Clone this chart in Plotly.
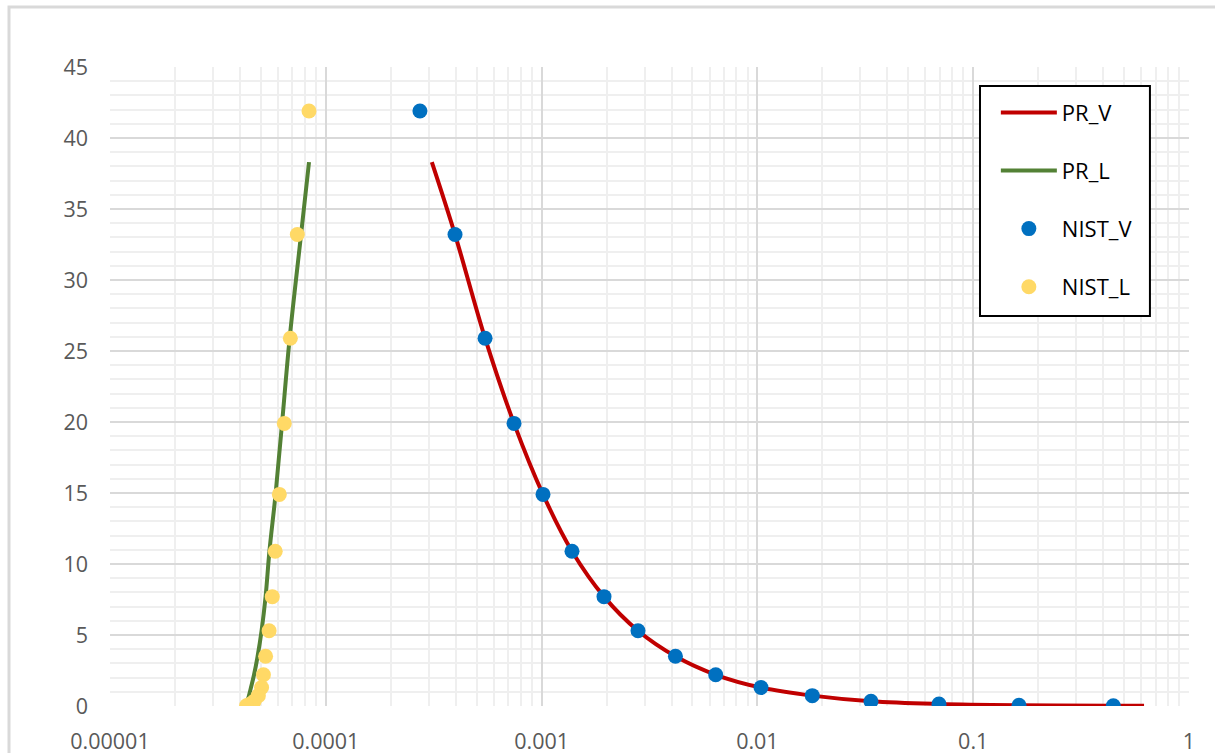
import plotly.graph_objects as go

# Saturation pressure levels shared by both NIST phases
nist_p = [41.9, 33.2, 25.9, 19.9, 14.9, 10.9, 7.7, 5.3, 3.5, 2.2, 1.3, 0.73, 0.33, 0.14, 0.05, 0.015]
# NIST saturated vapour volumes
nist_v = [2.73e-4, 3.97e-4, 5.47e-4, 7.45e-4, 1.015e-3, 1.383e-3, 1.946e-3, 2.797e-3,
          4.17e-3, 6.41e-3, 1.039e-2, 1.796e-2, 3.36e-2, 6.94e-2, 0.163, 0.446]
# NIST saturated liquid volumes
nist_l = [8.36e-5, 7.38e-5, 6.85e-5, 6.42e-5, 6.09e-5, 5.83e-5, 5.65e-5, 5.46e-5,
          5.26e-5, 5.14e-5, 5.04e-5, 4.87e-5, 4.65e-5, 4.48e-5, 4.36e-5, 4.29e-5]

# Peng-Robinson vapour branch
pr_v_x = [3.10e-4, 3.97e-4, 5.47e-4, 7.45e-4, 1.015e-3, 1.383e-3, 1.946e-3, 2.797e-3,
          4.17e-3, 6.41e-3, 1.039e-2, 1.796e-2, 3.36e-2, 6.94e-2, 0.163, 0.446, 0.619]
pr_v_p = [38.3, 33.2, 25.9, 19.9, 14.9, 10.9, 7.7, 5.3, 3.5, 2.2, 1.3, 0.73, 0.33, 0.14, 0.05, 0.015, 0.01]

# Peng-Robinson liquid branch
pr_l_x = [8.36e-5, 7.68e-5, 6.80e-5, 6.27e-5, 5.85e-5, 5.48e-5, 5.26e-5, 5.04e-5,
          4.83e-5, 4.65e-5, 4.50e-5, 4.38e-5, 4.29e-5]
pr_l_p = [38.3, 33.2, 25.9, 19.9, 14.9, 10.9, 7.7, 5.3, 3.5, 2.2, 1.3, 0.6, 0.15]

x_tickvals = [1e-5, 1e-4, 1e-3, 1e-2, 1e-1, 1]
x_ticktext = ["0.00001", "0.0001", "0.001", "0.01", "0.1", "1"]
y_tickvals = [0, 5, 10, 15, 20, 25, 30, 35, 40, 45]

FONT = "Open Sans"
TXT = "#595959"

fig = go.Figure()
fig.add_trace(go.Scatter(x=pr_v_x, y=pr_v_p, mode="lines", name="PR_V", legendgroup="a",
                         line=dict(color="#C00000", width=4, shape="spline", smoothing=1)))
fig.add_trace(go.Scatter(x=pr_l_x, y=pr_l_p, mode="lines", name="PR_L", legendgroup="b",
                         line=dict(color="#538135", width=4, shape="spline", smoothing=1)))
fig.add_trace(go.Scatter(x=nist_v, y=nist_p, mode="markers", name="NIST_V", legendgroup="c",
                         marker=dict(color="#0070C0", size=15)))
fig.add_trace(go.Scatter(x=nist_l, y=nist_p, mode="markers", name="NIST_L", legendgroup="d",
                         marker=dict(color="#FFD966", size=15)))

fig.update_layout(
    width=1215, height=753,
    margin=dict(l=110, r=26, t=67, b=47, autoexpand=False),
    paper_bgcolor="white", plot_bgcolor="white",
    font=dict(family=FONT, size=21.5, color=TXT),
    showlegend=True,
    legend=dict(x=0.821, xanchor="left", y=0.9615, yanchor="top",
                bgcolor="rgba(0,0,0,0)", borderwidth=0,
                font=dict(family=FONT, size=22, color="black"),
                tracegroupgap=26.5, itemwidth=56),
    xaxis=dict(type="log", range=[-5, 0], tickvals=x_tickvals, ticktext=x_ticktext,
               showgrid=True, gridcolor="#d9d9d9", gridwidth=1.5,
               minor=dict(dtick="D1", showgrid=True, gridcolor="#efefef", gridwidth=1.5),
               zeroline=False, showline=False, ticks="", ticklabelstandoff=20,
               automargin=False),
    yaxis=dict(range=[0, 45], tickvals=y_tickvals,
               showgrid=True, gridcolor="#d9d9d9", gridwidth=1.5,
               minor=dict(dtick=1, showgrid=True, gridcolor="#efefef", gridwidth=1.5),
               zeroline=False, showline=False, ticks="", ticklabelstandoff=21,
               automargin=False),
    shapes=[
        # outer chart-area frame
        dict(type="rect", xref="paper", yref="paper",
             x0=-0.0936, x1=1.03, y0=-0.09, y1=1.094,
             line=dict(color="#d9d9d9", width=3), layer="below"),
        # legend frame
        dict(type="rect", xref="paper", yref="paper",
             x0=0.8063, x1=0.9638, y0=0.6103, y1=0.9703,
             line=dict(color="black", width=2), fillcolor="white", layer="above"),
    ],
)

fig.write_html("out.html")
